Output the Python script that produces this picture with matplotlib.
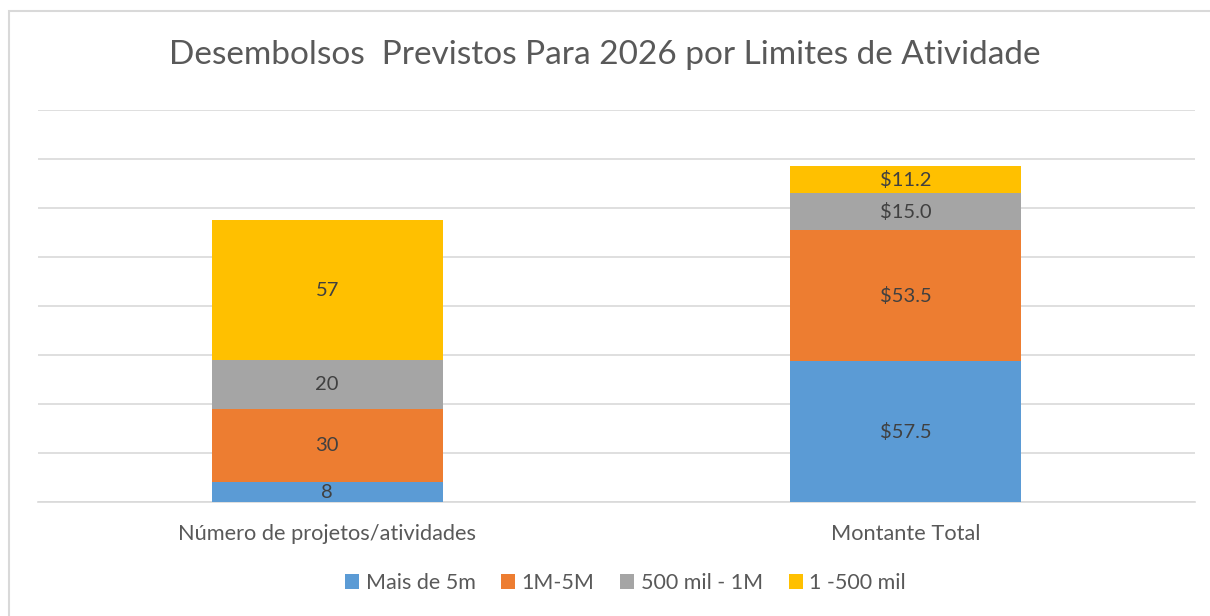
import matplotlib
matplotlib.use("Agg")
import matplotlib.pyplot as plt
from matplotlib.patches import Rectangle
import numpy as np

plt.rcParams['font.family'] = ['Lato', 'DejaVu Sans']

categories = ["Número de projetos/atividades", "Montante Total"]
series_names = ["Mais de 5m", "1M-5M", "500 mil - 1M", "1 -500 mil"]
values = {
    "Mais de 5m": [8, 57.5],
    "1M-5M": [30, 53.5],
    "500 mil - 1M": [20, 15.0],
    "1 -500 mil": [57, 11.2],
}
label_fmt = ["{:.0f}", "${:.1f}"]
colors = ["#5B9BD5", "#ED7D31", "#A5A5A5", "#FFC000"]

W, H = 1210, 616
fig = plt.figure(figsize=(W / 100, H / 100), dpi=100)
fig.patches.append(Rectangle((8.5 / W, -0.1), 1.2, 1.1 - 11 / H, transform=fig.transFigure,
                             fill=False, edgecolor="#D9D9D9", linewidth=1.5))

ax = fig.add_axes([38 / W, 1 - 502 / H, (1195 - 38) / W, (502 - 110) / H])
x = np.arange(len(categories))
bottom = np.zeros(len(categories))
txt = "#404040"
for name, c in zip(series_names, colors):
    v = np.array(values[name])
    bars = ax.bar(x, v, width=0.4, bottom=bottom, color=c, zorder=3, label=name)
    for i, (b, val) in enumerate(zip(bars, v)):
        ax.text(b.get_x() + b.get_width() / 2, bottom[i] + val / 2,
                label_fmt[i].format(val), ha="center", va="center",
                fontsize=14.5, color=txt, zorder=4)
    bottom += v

ax.set_xlim(-0.5, 1.5)
ax.set_ylim(0, 160)
ax.set_yticks(np.arange(0, 161, 20))
ax.yaxis.grid(True, color="#D9D9D9", linewidth=1.2, zorder=0)
ax.tick_params(axis="y", left=False, labelleft=False)
ax.tick_params(axis="x", bottom=False, labelsize=15.7, labelcolor="#595959", pad=12)
ax.set_xticks(x)
ax.set_xticklabels(categories)
for s in ["top", "right", "left"]:
    ax.spines[s].set_visible(False)
ax.spines["bottom"].set_color("#D9D9D9")
ax.spines["bottom"].set_linewidth(1.2)

fig.text(0.5, 1 - 55 / H, "Desembolsos  Previstos Para 2026 por Limites de Atividade",
         ha="center", va="center", fontsize=24, color="#595959")

fig.legend(loc="center", bbox_to_anchor=(0.517, 1 - 583 / H), ncol=4, frameon=False,
           fontsize=15.5, labelcolor="#595959", handlelength=0.65, handleheight=0.65,
           handletextpad=0.3, columnspacing=1.2)

fig.savefig("out.png", dpi=100)
